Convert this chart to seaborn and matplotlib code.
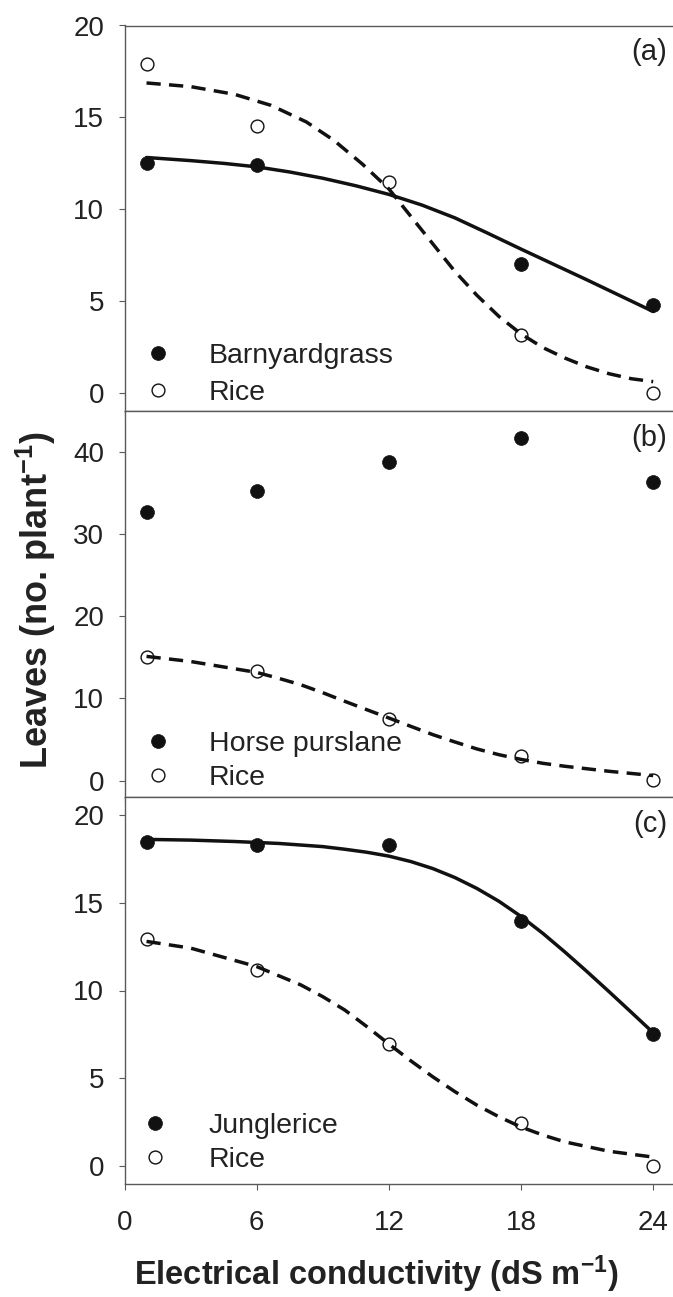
import numpy as np
import pandas as pd
import matplotlib
matplotlib.use("Agg")
import matplotlib.pyplot as plt
import seaborn as sns

# ---------------- data ----------------
ec = [1, 6, 12, 18, 24]

barnyardgrass = [12.5, 12.4, np.nan, 7.0, 4.8]
rice_a = [17.9, 14.5, 11.5, 3.15, 0.0]

horse_purslane = [32.7, 35.3, 38.8, 41.7, 36.4]
rice_b = [15.0, 13.3, 7.5, 2.95, 0.1]

junglerice = [18.45, 18.25, 18.25, 13.95, 7.55]
rice_c = [12.95, 11.15, 6.95, 2.45, 0.0]

# fitted curves
fit_a_weed_x = [1, 3, 4.5, 6, 7.5, 9, 10.5, 12, 13.5, 15, 16.5, 18, 19.5, 21, 22.5, 24]
fit_a_weed_y = [12.81, 12.64, 12.49, 12.30, 12.02, 11.68, 11.27, 10.80, 10.22, 9.52,
                8.68, 7.82, 6.98, 6.14, 5.28, 4.42]
fit_a_rice_x = [1, 3, 5, 6.65, 8.25, 9.5, 10.8, 12, 13, 14, 15, 16, 17, 18, 19, 20, 21, 22, 23, 24]
fit_a_rice_y = [16.87, 16.67, 16.25, 15.65, 14.75, 13.75, 12.45, 11.1, 9.6, 8.1, 6.6, 5.3,
                4.15, 3.2, 2.45, 1.88, 1.40, 1.03, 0.76, 0.60]

fit_b_rice_x = [1, 3, 6, 7, 8, 9, 10, 11, 12, 13, 14, 15, 16, 17, 18, 19, 20, 22, 24]
fit_b_rice_y = [15.12, 14.5, 13.17, 12.45, 11.67, 10.70, 9.65, 8.63, 7.62, 6.60, 5.59,
                4.70, 3.85, 3.15, 2.58, 2.10, 1.74, 1.13, 0.61]

fit_c_weed_x = [1, 3, 5, 7, 9, 10, 11, 12, 13, 14, 15, 16, 17, 18, 19, 20, 21, 22, 23, 24]
fit_c_weed_y = [18.59, 18.55, 18.47, 18.36, 18.18, 18.03, 17.86, 17.64, 17.33, 16.93,
                16.42, 15.80, 15.07, 14.21, 13.24, 12.18, 11.07, 9.93, 8.77, 7.60]
fit_c_rice_x = [1, 3, 6, 8, 9, 10, 11, 12, 13, 14, 15, 16, 17, 18, 19, 20, 22, 24]
fit_c_rice_y = [12.79, 12.41, 11.36, 10.32, 9.65, 8.89, 7.95, 6.96, 6.00, 5.09, 4.25,
                3.48, 2.82, 2.24, 1.78, 1.39, 0.86, 0.53]

weed_names = ["Barnyardgrass", "Horse purslane", "Junglerice"]
panel_tags = ["(a)", "(b)", "(c)"]
x_ticks = [0, 6, 12, 18, 24]
y_ticks = [[0, 5, 10, 15, 20], [0, 10, 20, 30, 40], [0, 5, 10, 15, 20]]
y_limits = [(-1, 20), (-2, 45), (-1, 21)]
x_label = r"Electrical conductivity (dS m$^{-1}$)"
y_label = r"Leaves (no. plant$^{-1}$)"

# ---------------- style ----------------
sns.set_theme(style="ticks")
plt.rcParams["font.family"] = ["Liberation Sans", "DejaVu Sans"]
plt.rcParams["mathtext.fontset"] = "custom"
plt.rcParams["mathtext.rm"] = "Liberation Sans"
plt.rcParams["mathtext.bf"] = "Liberation Sans:bold"
plt.rcParams["mathtext.default"] = "regular"

INK = "#111111"
SPINE = "#5a5a5a"
TXT = "#222222"
LW = 2.5
DASH = (0, (4.1, 2.4))

W, H = 673, 1297
fig = plt.figure(figsize=(W / 100, H / 100), dpi=100)

left = 124.5 / W
width = 1.0 - left
panels_px = [(25.5, 411), (411, 797), (797, 1184)]

weed_vals = [barnyardgrass, horse_purslane, junglerice]
rice_vals = [rice_a, rice_b, rice_c]
weed_fits = [(fit_a_weed_x, fit_a_weed_y), None, (fit_c_weed_x, fit_c_weed_y)]
rice_fits = [(fit_a_rice_x, fit_a_rice_y), (fit_b_rice_x, fit_b_rice_y), (fit_c_rice_x, fit_c_rice_y)]

leg_x0 = [0.0357, 0.0357, 0.030]
leg_pad = [1.28, 1.28, 1.38]
leg_y0 = [0.013, 0.015, 0.028]
leg_space = [0.40, 0.29, 0.29]

for i, (top, bot) in enumerate(panels_px):
    ax = fig.add_axes([left, 1 - bot / H, width, (bot - top) / H])

    df_w = pd.DataFrame({"ec": ec, "v": weed_vals[i]})
    df_r = pd.DataFrame({"ec": ec, "v": rice_vals[i]})

    sns.scatterplot(data=df_w, x="ec", y="v", ax=ax, s=100, color=INK,
                    edgecolor=INK, linewidth=0.5, label=weed_names[i], zorder=3)
    sns.scatterplot(data=df_r, x="ec", y="v", ax=ax, s=85, color="white",
                    edgecolor=INK, linewidth=1.0, label="Rice", zorder=4)

    if weed_fits[i] is not None:
        fx, fy = weed_fits[i]
        sns.lineplot(x=fx, y=fy, ax=ax, color=INK, lw=LW, estimator=None,
                     sort=False, zorder=5)
    fx, fy = rice_fits[i]
    sns.lineplot(x=fx, y=fy, ax=ax, color=INK, lw=LW, linestyle=DASH,
                 estimator=None, sort=False, zorder=5)

    ax.set_xlim(0, 24.9)
    ax.set_ylim(*y_limits[i])
    ax.set_xticks(x_ticks)
    ax.set_yticks(y_ticks[i])
    ax.set_xlabel("")
    ax.set_ylabel("")

    for s in ["left", "bottom", "top"]:
        ax.spines[s].set_color(SPINE)
        ax.spines[s].set_linewidth(1.0)
        ax.spines[s].set_visible(True)
    ax.spines["right"].set_visible(False)

    ax.tick_params(axis="both", direction="out", length=4, width=0.8,
                   color=SPINE, labelsize=20, labelcolor=TXT)
    ax.tick_params(axis="y", pad=10.5)
    ax.tick_params(axis="x", pad=14.5, top=False)
    if i < 2:
        ax.tick_params(axis="x", labelbottom=False)

    ax.text(0.989, 0.93, panel_tags[i], transform=ax.transAxes, ha="right",
            va="center", fontsize=21, color=TXT)

    ax.legend(loc="lower left", bbox_to_anchor=(leg_x0[i], leg_y0[i]),
              frameon=False, fontsize=20.5, handlelength=1.0,
              handletextpad=leg_pad[i], borderpad=0, borderaxespad=0,
              labelspacing=leg_space[i], scatteryoffsets=[0.5],
              labelcolor=TXT)

fig.text(36 / W, 1 - 600 / H, y_label, rotation=90, ha="center", va="center",
         fontsize=26, fontweight="bold", color=TXT)
fig.text(376.5 / W, 1 - 1285 / H, x_label, ha="center", va="baseline",
         fontsize=23.5, fontweight="bold", color=TXT)

fig.savefig("out.png", dpi=100)
